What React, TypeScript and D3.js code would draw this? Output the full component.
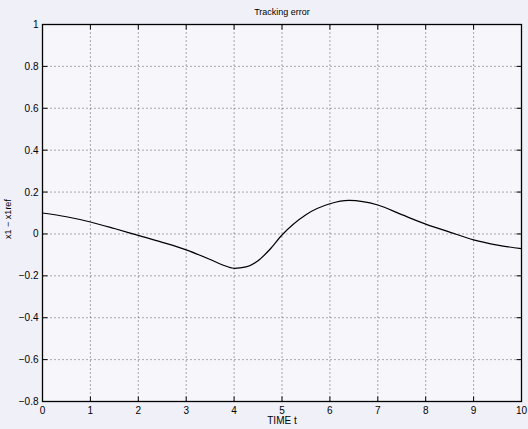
import React from "react";
import * as d3 from "d3";

const timeValues = [0, 0.5, 1, 1.5, 2, 2.5, 3, 3.5, 3.75, 4, 4.25, 4.5, 4.75, 5, 5.5, 6, 6.4, 7, 7.5, 8, 8.5, 9, 9.5, 10];
const errorValues = [0.1, 0.082, 0.057, 0.026, -0.007, -0.04, -0.076, -0.122, -0.147, -0.164, -0.157, -0.128, -0.073, -0.005, 0.092, 0.144, 0.16, 0.138, 0.092, 0.047, 0.009, -0.028, -0.053, -0.07];
const xTicks = [0, 1, 2, 3, 4, 5, 6, 7, 8, 9, 10];
const yTicks = [-0.8, -0.6, -0.4, -0.2, 0, 0.2, 0.4, 0.6, 0.8, 1];

const W = 528, H = 429;
const L = 42.5, R = 521.5, T = 24.5, B = 401.5;

export default function App() {
  const x = d3.scaleLinear().domain([0, 10]).range([L, R]);
  const y = d3.scaleLinear().domain([-0.8, 1]).range([B, T]);
  const line = d3.line<number>()
    .x((_, i) => x(timeValues[i]))
    .y((d) => y(d))
    .curve(d3.curveMonotoneX);
  const fmt = (v: number) => (Math.abs(v) < 1e-9 ? "0" : (v < 0 ? "\u2212" : "") + String(Math.abs(+v.toFixed(1))));
  const font = "Liberation Sans, Arial, Helvetica, sans-serif";
  return (
    <svg width={W} height={H} style={{ position: "absolute", left: 0, top: 0, display: "block" }}>
      <rect x={0} y={0} width={W} height={H} fill="#f0f0f8" />
      <rect x={L} y={T} width={R - L} height={B - T} fill="#f6f6fb" />
      {xTicks.slice(1, -1).map((t) => (
        <line key={"gx" + t} x1={x(t)} x2={x(t)} y1={T} y2={B} stroke="#333" strokeWidth={0.8} strokeDasharray="1,3" />
      ))}
      {yTicks.slice(1, -1).map((t) => (
        <line key={"gy" + t} x1={L} x2={R} y1={y(t)} y2={y(t)} stroke="#333" strokeWidth={0.8} strokeDasharray="1,3" />
      ))}
      <path d={line(errorValues) || ""} fill="none" stroke="#000" strokeWidth={1.2} />
      <rect x={L} y={T} width={R - L} height={B - T} fill="none" stroke="#000" strokeWidth={1.3} />
      {xTicks.map((t) => (
        <g key={"tx" + t}>
          <line x1={x(t)} x2={x(t)} y1={B} y2={B - 5} stroke="#000" />
          <line x1={x(t)} x2={x(t)} y1={T} y2={T + 5} stroke="#000" />
          <text x={x(t)} y={B + 12} fontSize={10} fontFamily={font} textAnchor="middle" fill="#000">{fmt(t)}</text>
        </g>
      ))}
      {yTicks.map((t) => (
        <g key={"ty" + t}>
          <line x1={L} x2={L + 5} y1={y(t)} y2={y(t)} stroke="#000" />
          <line x1={R} x2={R - 5} y1={y(t)} y2={y(t)} stroke="#000" />
          <text x={L - 4} y={y(t) + 3.5} fontSize={10} fontFamily={font} textAnchor="end" fill="#000">{fmt(t)}</text>
        </g>
      ))}
      <text x={(L + R) / 2} y={15} fontSize={9} fontFamily={font} textAnchor="middle" fill="#000">Tracking error</text>
      <text x={(L + R) / 2} y={424} fontSize={10} fontFamily={font} textAnchor="middle" fill="#000">TIME t</text>
      <text transform={`translate(11,${(T + B) / 2 + 6}) rotate(-90)`} fontSize={9} fontFamily={font} textAnchor="middle" fill="#000">x1 − x1ref</text>
    </svg>
  );
}
